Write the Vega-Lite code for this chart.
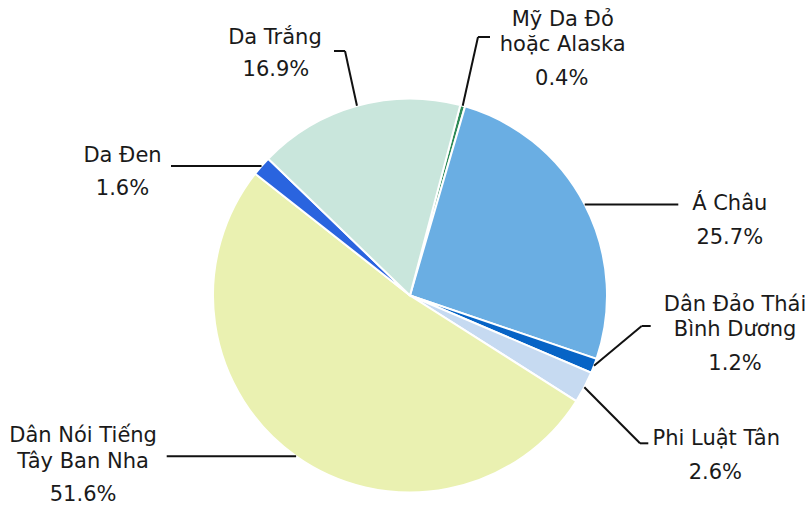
{
  "$schema": "https://vega.github.io/schema/vega-lite/v6.json",
  "width": 802,
  "height": 421,
  "autosize": "none",
  "padding": {"left": 9, "top": 85, "right": 0, "bottom": 0},
  "background": "white",
  "config": {"view": {"stroke": null}, "font": "DejaVu Sans"},
  "data": {
    "values": [
      {"nhom": "Mỹ Da Đỏ\nhoặc Alaska", "pct": 0.4},
      {"nhom": "Á Châu", "pct": 25.7},
      {"nhom": "Dân Đảo Thái\nBình Dương", "pct": 1.2},
      {"nhom": "Phi Luật Tân", "pct": 2.6},
      {"nhom": "Dân Nói Tiếng\nTây Ban Nha", "pct": 51.6},
      {"nhom": "Da Đen", "pct": 1.6},
      {"nhom": "Da Trắng", "pct": 16.9}
    ]
  },
  "transform": [
    {"window": [{"op": "sum", "field": "pct", "as": "cum"}, {"op": "row_number", "as": "thu_tu"}], "frame": [null, 0]},
    {"calculate": "datum.cum - datum.pct / 2", "as": "mid"},
    {"calculate": "0.2583 + datum.mid / 100 * 2 * PI", "as": "ang"},
    {"calculate": "sin(datum.ang)", "as": "ex"},
    {"calculate": "cos(datum.ang)", "as": "ey"},
    {"calculate": "format(datum.pct, '.1f') + '%'", "as": "nhan_pct"}
  ],
  "layer": [
    {
      "mark": {"type": "arc", "outerRadius": 197, "stroke": "#ffffff", "strokeWidth": 2},
      "encoding": {
        "theta": {"field": "pct", "type": "quantitative", "stack": true, "scale": {"domain": [0, 100], "range": [0.2583, 6.5415]}},
        "order": {"field": "thu_tu", "type": "quantitative"},
        "color": {
          "field": "nhom", "type": "nominal", "legend": null,
          "scale": {
            "domain": ["Mỹ Da Đỏ\nhoặc Alaska", "Á Châu", "Dân Đảo Thái\nBình Dương", "Phi Luật Tân", "Dân Nói Tiếng\nTây Ban Nha", "Da Đen", "Da Trắng"],
            "range": ["#2e8b57", "#6aaee3", "#0764c6", "#c6daf1", "#eaf1b1", "#2a64df", "#c9e6dc"]
          }
        }
      }
    },
    {
      "transform": [{"filter": "datum.thu_tu == 1"}],
      "layer": [
        {"mark": {"type": "rule", "color": "#111", "strokeWidth": 2},
         "encoding": {
           "x": {"field": "ex", "type": "quantitative", "axis": null, "scale": {"domain": [-2.03553, 2.03553], "nice": false, "zero": false}},
           "y": {"field": "ey", "type": "quantitative", "axis": null, "scale": {"domain": [-1.06853, 1.06853], "nice": false, "zero": false}},
           "x2": {"datum": 0.3452}, "y2": {"datum": 1.3122}}},
        {"mark": {"type": "rule", "color": "#111", "strokeWidth": 2},
         "encoding": {
           "x": {"datum": 0.3452, "type": "quantitative"}, "x2": {"datum": 0.4061},
           "y": {"datum": 1.3122, "type": "quantitative"}}},
        {"mark": {"type": "text", "fontSize": 21, "color": "#1a1a1a", "align": "center", "baseline": "alphabetic", "lineBreak": "\n", "lineHeight": 25.6, "dx": 100, "dy": -80},
         "encoding": {"x": {"field": "ex", "type": "quantitative"}, "y": {"field": "ey", "type": "quantitative"}, "text": {"field": "nhom"}}},
        {"mark": {"type": "text", "fontSize": 21, "color": "#1a1a1a", "align": "center", "baseline": "alphabetic", "dx": 99, "dy": -21},
         "encoding": {"x": {"field": "ex", "type": "quantitative"}, "y": {"field": "ey", "type": "quantitative"}, "text": {"field": "nhan_pct"}}}
      ]
    },
    {
      "transform": [{"filter": "datum.thu_tu == 2"}],
      "layer": [
        {"mark": {"type": "rule", "color": "#111", "strokeWidth": 2},
         "encoding": {
           "x": {"field": "ex", "type": "quantitative"}, "x2": {"datum": 1.3619},
           "y": {"field": "ey", "type": "quantitative"}}},
        {"mark": {"type": "text", "fontSize": 21, "color": "#1a1a1a", "align": "center", "baseline": "alphabetic", "lineBreak": "\n", "lineHeight": 25.6, "dx": 145, "dy": 5},
         "encoding": {"x": {"field": "ex", "type": "quantitative"}, "y": {"field": "ey", "type": "quantitative"}, "text": {"field": "nhom"}}},
        {"mark": {"type": "text", "fontSize": 21, "color": "#1a1a1a", "align": "center", "baseline": "alphabetic", "dx": 145, "dy": 39},
         "encoding": {"x": {"field": "ex", "type": "quantitative"}, "y": {"field": "ey", "type": "quantitative"}, "text": {"field": "nhan_pct"}}}
      ]
    },
    {
      "transform": [{"filter": "datum.thu_tu == 3"}],
      "layer": [
        {"mark": {"type": "rule", "color": "#111", "strokeWidth": 2},
         "encoding": {
           "x": {"field": "ex", "type": "quantitative"}, "y": {"field": "ey", "type": "quantitative"},
           "x2": {"datum": 1.1761}, "y2": {"datum": -0.1548}}},
        {"mark": {"type": "rule", "color": "#111", "strokeWidth": 2},
         "encoding": {
           "x": {"datum": 1.1761, "type": "quantitative"}, "x2": {"datum": 1.2218},
           "y": {"datum": -0.1548, "type": "quantitative"}}},
        {"mark": {"type": "text", "fontSize": 21, "color": "#1a1a1a", "align": "center", "baseline": "alphabetic", "lineBreak": "\n", "lineHeight": 25.6, "dx": 141, "dy": -55},
         "encoding": {"x": {"field": "ex", "type": "quantitative"}, "y": {"field": "ey", "type": "quantitative"}, "text": {"field": "nhom"}}},
        {"mark": {"type": "text", "fontSize": 21, "color": "#1a1a1a", "align": "center", "baseline": "alphabetic", "dx": 141, "dy": 4},
         "encoding": {"x": {"field": "ex", "type": "quantitative"}, "y": {"field": "ey", "type": "quantitative"}, "text": {"field": "nhan_pct"}}}
      ]
    },
    {
      "transform": [{"filter": "datum.thu_tu == 4"}],
      "layer": [
        {"mark": {"type": "rule", "color": "#111", "strokeWidth": 2},
         "encoding": {
           "x": {"field": "ex", "type": "quantitative"}, "y": {"field": "ey", "type": "quantitative"},
           "x2": {"datum": 1.1675}, "y2": {"datum": -0.7503}}},
        {"mark": {"type": "rule", "color": "#111", "strokeWidth": 2},
         "encoding": {
           "x": {"datum": 1.1675, "type": "quantitative"}, "x2": {"datum": 1.2096},
           "y": {"datum": -0.7503, "type": "quantitative"}}},
        {"mark": {"type": "text", "fontSize": 21, "color": "#1a1a1a", "align": "center", "baseline": "alphabetic", "lineBreak": "\n", "lineHeight": 25.6, "dx": 132, "dy": 58},
         "encoding": {"x": {"field": "ex", "type": "quantitative"}, "y": {"field": "ey", "type": "quantitative"}, "text": {"field": "nhom"}}},
        {"mark": {"type": "text", "fontSize": 21, "color": "#1a1a1a", "align": "center", "baseline": "alphabetic", "dx": 131, "dy": 92},
         "encoding": {"x": {"field": "ex", "type": "quantitative"}, "y": {"field": "ey", "type": "quantitative"}, "text": {"field": "nhan_pct"}}}
      ]
    },
    {
      "transform": [{"filter": "datum.thu_tu == 5"}],
      "layer": [
        {"mark": {"type": "rule", "color": "#111", "strokeWidth": 2},
         "encoding": {
           "x": {"field": "ex", "type": "quantitative"}, "x2": {"datum": -1.2350},
           "y": {"field": "ey", "type": "quantitative"}}},
        {"mark": {"type": "text", "fontSize": 21, "color": "#1a1a1a", "align": "center", "baseline": "alphabetic", "lineBreak": "\n", "lineHeight": 25.6, "dx": -213, "dy": -14},
         "encoding": {"x": {"field": "ex", "type": "quantitative"}, "y": {"field": "ey", "type": "quantitative"}, "text": {"field": "nhom"}}},
        {"mark": {"type": "text", "fontSize": 21, "color": "#1a1a1a", "align": "center", "baseline": "alphabetic", "dx": -213, "dy": 45},
         "encoding": {"x": {"field": "ex", "type": "quantitative"}, "y": {"field": "ey", "type": "quantitative"}, "text": {"field": "nhan_pct"}}}
      ]
    },
    {
      "transform": [{"filter": "datum.thu_tu == 6"}],
      "layer": [
        {"mark": {"type": "rule", "color": "#111", "strokeWidth": 2},
         "encoding": {
           "x": {"field": "ex", "type": "quantitative"}, "x2": {"datum": -1.2132},
           "y": {"field": "ey", "type": "quantitative"}}},
        {"mark": {"type": "text", "fontSize": 21, "color": "#1a1a1a", "align": "center", "baseline": "alphabetic", "lineBreak": "\n", "lineHeight": 25.6, "dx": -139, "dy": -4},
         "encoding": {"x": {"field": "ex", "type": "quantitative"}, "y": {"field": "ey", "type": "quantitative"}, "text": {"field": "nhom"}}},
        {"mark": {"type": "text", "fontSize": 21, "color": "#1a1a1a", "align": "center", "baseline": "alphabetic", "dx": -139, "dy": 29},
         "encoding": {"x": {"field": "ex", "type": "quantitative"}, "y": {"field": "ey", "type": "quantitative"}, "text": {"field": "nhan_pct"}}}
      ]
    },
    {
      "transform": [{"filter": "datum.thu_tu == 7"}],
      "layer": [
        {"mark": {"type": "rule", "color": "#111", "strokeWidth": 2},
         "encoding": {
           "x": {"field": "ex", "type": "quantitative"}, "y": {"field": "ey", "type": "quantitative"},
           "x2": {"datum": -0.3299}, "y2": {"datum": 1.2411}}},
        {"mark": {"type": "rule", "color": "#111", "strokeWidth": 2},
         "encoding": {
           "x": {"datum": -0.3299, "type": "quantitative"}, "x2": {"datum": -0.3858},
           "y": {"datum": 1.2411, "type": "quantitative"}}},
        {"mark": {"type": "text", "fontSize": 21, "color": "#1a1a1a", "align": "center", "baseline": "alphabetic", "lineBreak": "\n", "lineHeight": 25.6, "dx": -82, "dy": -62},
         "encoding": {"x": {"field": "ex", "type": "quantitative"}, "y": {"field": "ey", "type": "quantitative"}, "text": {"field": "nhom"}}},
        {"mark": {"type": "text", "fontSize": 21, "color": "#1a1a1a", "align": "center", "baseline": "alphabetic", "dx": -81, "dy": -30},
         "encoding": {"x": {"field": "ex", "type": "quantitative"}, "y": {"field": "ey", "type": "quantitative"}, "text": {"field": "nhan_pct"}}}
      ]
    }
  ]
}
